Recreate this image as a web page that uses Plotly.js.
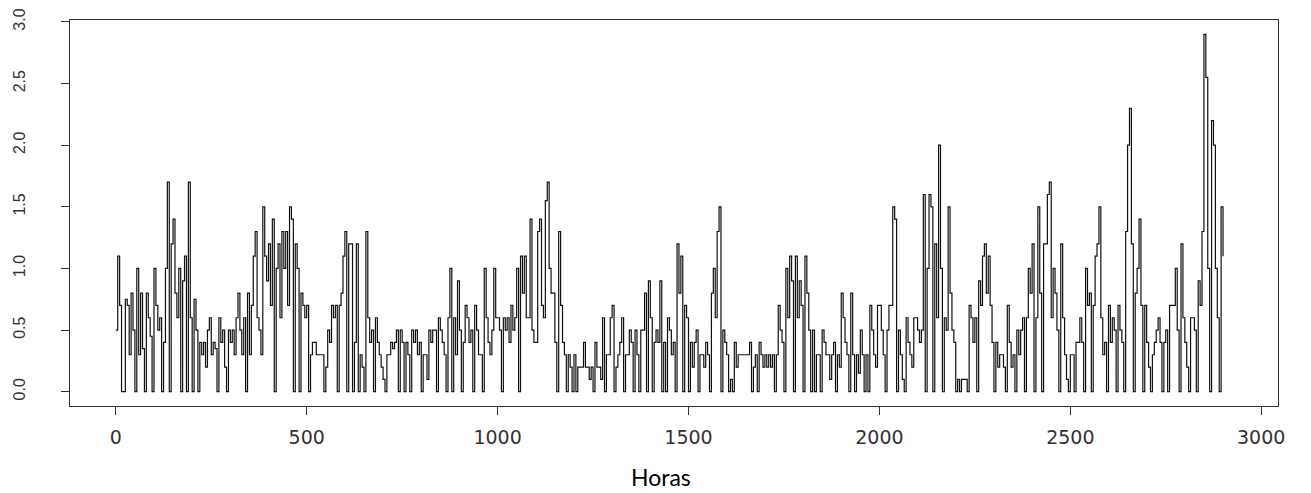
<!DOCTYPE html>
<html>
<head>
<meta charset="utf-8">
<script src="https://cdn.plot.ly/plotly-3.0.1.min.js"></script>
<style>
  html, body { margin: 0; padding: 0; background: #fff; }
  #grafico { width: 1311px; height: 493px; }
</style>
</head>
<body>
<div id="grafico"></div>
<script>
// Serie horaria, un valor cada PASO_HORAS horas, en bloques de 500 horas
const PASO_HORAS = 5;

const h0000 = [
  0.5,1.1,0.7,0,0,0.75,0.7,0.3,0.8,0.5,
  0,1.0,0.3,0.8,0.35,0,0.8,0.6,0.45,0,
  1.0,0.7,0.5,0.6,0,0.4,1.0,1.7,0,1.2,
  1.4,0.8,0.6,1.0,0,0.9,1.1,0,1.7,0.6,
  0,0.75,0.5,0,0.4,0.3,0.4,0.2,0.5,0.6,
  0.3,0.4,0.35,0,0.6,0.4,0.5,0.2,0,0.5,
  0.4,0.5,0.3,0.6,0.8,0.5,0.3,0.6,0,0.8,
  0.3,0.7,1.1,1.3,0.6,0.5,0.3,1.5,1.1,0.9,
  1.2,0.7,1.4,0,1.0,1.2,0.6,1.3,1.0,1.3,
  0.7,1.5,1.4,0,1.2,1.0,0,0.8,0.7,0.6
];

const h0500 = [
  0.7,0,0.3,0.4,0.4,0.3,0.3,0.3,0.3,0,
  0.2,0.5,0.4,0.7,0.6,0.7,0,0.7,0.8,1.1,
  1.3,0,1.2,1.2,0,0.4,1.2,0,0.3,0.2,
  0,1.3,0.6,0.4,0.5,0,0.6,0.4,0.3,0.2,
  0.1,0,0.3,0.3,0.4,0.35,0.4,0.5,0,0.5,
  0.4,0,0.4,0.3,0,0.5,0.4,0.5,0.3,0.4,
  0,0.3,0.3,0.1,0.5,0.4,0.5,0.5,0,0.6,
  0.5,0.4,0.3,0,0.6,1.0,0,0.6,0.3,0.9,
  0.5,0,0.4,0.7,0.6,0.4,0.5,0,0.7,0.5,
  0.3,0.3,0,1.0,0.6,0.4,0.3,0.5,1.0,0.6
];

const h1000 = [
  0.6,0.5,0,0.6,0.5,0.6,0.4,0.7,0.5,0.6,
  1.0,0,1.1,0.8,1.1,0.6,0.6,1.4,0.5,0.4,
  0.4,1.3,1.4,0.7,0.6,1.55,1.7,1.0,0.8,0.8,
  0.4,0,1.3,0.7,0.4,0.3,0,0.3,0.2,0,
  0.3,0,0.2,0.2,0.2,0.4,0.2,0.2,0.1,0.2,
  0,0.4,0.2,0.2,0.1,0.6,0,0.3,0.3,0.6,
  0.7,0,0.2,0.3,0.4,0.6,0,0.3,0.3,0.5,
  0.4,0,0.5,0.3,0,0.5,0.5,0.8,0,0.9,
  0.6,0,0.4,0.5,0.4,0.9,0,0.4,0,0.6,
  0.5,0.3,0.4,0,1.2,0.8,1.1,0,0.7,0.6
];

const h1500 = [
  0,0.4,0.2,0.4,0.5,0,0.3,0.3,0.2,0.4,
  0.3,0,0.8,1.0,0.6,1.3,1.5,0,0.5,0.4,
  0.3,0,0.1,0,0.4,0.2,0.3,0.3,0.3,0.3,
  0.3,0.3,0.4,0,0.2,0.3,0,0.4,0.3,0.2,
  0.3,0.2,0.3,0.2,0.3,0,0.3,0.7,0.5,0.4,
  0,1.0,0.6,1.1,0.9,0,1.1,0.6,0.9,0.7,
  0,1.1,0.8,0.5,0,0.5,0,0.3,0.3,0,
  0.5,0.4,0.3,0.3,0.1,0.3,0.4,0,0.3,0.2,
  0.8,0.6,0.4,0.3,0,0.8,0.3,0,0.3,0.15,
  0.5,0.3,0,0.3,0,0.7,0.5,0.3,0.2,0.7
];

const h2000 = [
  0.7,0.5,0.3,0,0.5,0.7,0.7,1.5,1.4,0,
  0.5,0.3,0.1,0,0.6,0.4,0.3,0.2,0.6,0.6,
  0.5,0.4,0.5,1.6,0,1.0,1.6,1.5,0,1.2,
  0.6,2.0,1.0,0,0.6,0.5,1.5,0.8,0.5,0.4,
  0,0.1,0,0.1,0.1,0.1,0,0.7,0.6,0.4,
  0.6,0,0.9,0.7,1.1,1.2,0.8,1.1,0.7,0.4,
  0,0.4,0.2,0.3,0.3,0.2,0,0.7,0.4,0.2,
  0.3,0,0.5,0.3,0.5,0.6,0,0.6,1.0,0.8,
  1.2,0,0.6,1.5,0.8,0,1.2,1.2,1.6,1.7,
  0.6,1.0,0.8,0.5,0,1.2,0.6,0.3,0.1,0
];

const h2500 = [
  0.3,0.3,0,0.4,0.4,0.6,0.4,0,1.0,0.7,
  0.8,0,0.7,1.1,1.2,1.5,0.6,0.3,0.4,0,
  0.7,0.4,0.6,0.5,0,0.7,0.5,0.4,0,1.3,
  2.0,2.3,1.2,0,0.8,1.0,1.4,0.7,0,0.7,
  0.4,0.2,0,0.3,0.4,0.5,0.6,0.4,0,0.4,
  0.5,0,0.7,0.7,0.7,1.0,0.5,0,1.2,0.6,
  0.4,0.2,0,0.6,0.6,0.5,0,0.9,0.7,1.3,
  2.9,2.55,1.0,0,2.2,2.0,1.0,0.6,0,1.5,
  1.1
];

const xTicks = [0, 500, 1000, 1500, 2000, 2500, 3000];
const yTicks = [0, 0.5, 1, 1.5, 2, 2.5, 3];
const yTickText = ['0.0', '0.5', '1.0', '1.5', '2.0', '2.5', '3.0'];
const xTitulo = 'Horas';

const serie = [].concat(h0000, h0500, h1000, h1500, h2000, h2500);
const horas = serie.map((_, i) => i * PASO_HORAS);

const ejeColor = '#333';

const trace = {
  x: horas,
  y: serie,
  type: 'scatter',
  mode: 'lines',
  line: { color: '#111', width: 1.2, shape: 'hv' },
  hoverinfo: 'x+y'
};

const layout = {
  width: 1311,
  height: 493,
  margin: { l: 70, r: 33, t: 20, b: 87 },
  paper_bgcolor: '#fff',
  plot_bgcolor: '#fff',
  showlegend: false,
  xaxis: {
    range: [-120, 3044],
    tickvals: xTicks,
    ticktext: xTicks.map(String),
    ticks: 'outside',
    ticklen: 8,
    tickwidth: 1,
    tickcolor: ejeColor,
    showline: true,
    mirror: true,
    linecolor: ejeColor,
    linewidth: 1,
    showgrid: false,
    zeroline: false,
    tickfont: { family: 'DejaVu Sans, Verdana, sans-serif', size: 19, color: '#333' },
    ticklabelstandoff: 6
  },
  yaxis: {
    range: [-0.116, 3.016],
    tickvals: yTicks,
    ticktext: yTickText,
    tickangle: -90,
    ticks: 'outside',
    ticklen: 8,
    tickwidth: 1,
    tickcolor: ejeColor,
    showline: true,
    mirror: true,
    linecolor: ejeColor,
    linewidth: 1,
    showgrid: false,
    zeroline: false,
    tickfont: { family: 'Liberation Sans, Arial, sans-serif', size: 16, color: '#333' },
    ticklabelstandoff: 30
  },
  annotations: [{
    text: xTitulo,
    xref: 'paper', yref: 'paper',
    x: 0.489, y: -0.184,
    xanchor: 'center', yanchor: 'middle',
    showarrow: false,
    font: { family: 'Lato, Open Sans, sans-serif', size: 23, color: '#000' }
  }]
};

Plotly.newPlot('grafico', [trace], layout, { displayModeBar: false, staticPlot: true });
</script>
</body>
</html>
